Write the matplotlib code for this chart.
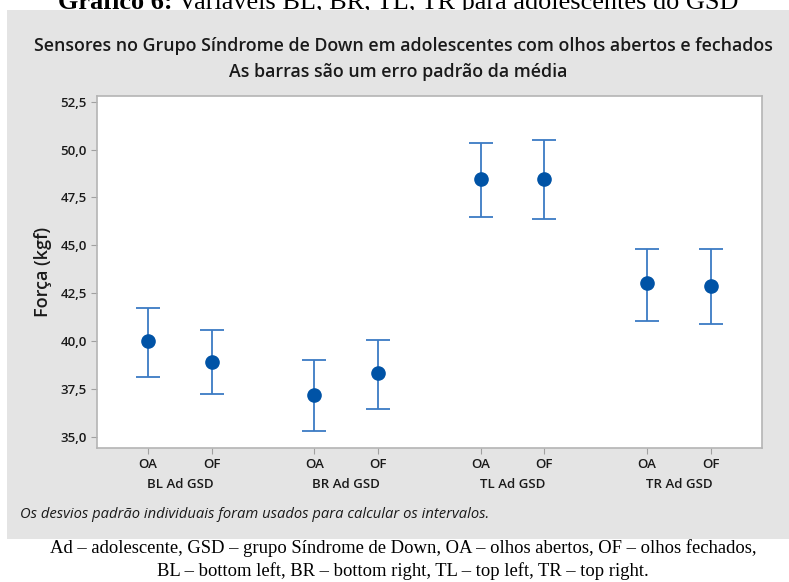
import matplotlib
matplotlib.use("Agg")
import matplotlib.pyplot as plt
from matplotlib.patches import Rectangle
from matplotlib.transforms import blended_transform_factory

# data (Minitab interval plot)
groups = ["BL Ad GSD", "BR Ad GSD", "TL Ad GSD", "TR Ad GSD"]
conditions = ["OA", "OF"]
means = [40.00, 38.93, 37.19, 38.36, 48.48, 48.48, 43.02, 42.88]
upper = [41.72, 40.57, 39.00, 40.06, 50.36, 50.50, 44.83, 44.83]
lower = [38.13, 37.26, 35.31, 36.48, 46.47, 46.40, 41.07, 40.88]
yticks = [35.0, 37.5, 40.0, 42.5, 45.0, 47.5, 50.0, 52.5]

W, H = 789, 582
fig = plt.figure(figsize=(W / 100, H / 100), dpi=100)
fig.patch.set_facecolor("white")

# gray minitab panel
fig.patches.append(Rectangle((7 / W, 1 - 539 / H), (789 - 7) / W, (539 - 10) / H,
                             transform=fig.transFigure, facecolor="#e4e4e4",
                             edgecolor="none", zorder=-10))

ax = fig.add_axes([96.7 / W, 1 - 448 / H, (762 - 96.7) / W, (448 - 95.7) / H])
ax.set_zorder(1)
ax.set_facecolor("white")

step = 2.6  # distance between group starts
xpos = []
for g in range(len(groups)):
    for c in range(len(conditions)):
        xpos.append(g * step + c)

yerr = [[m - l for m, l in zip(means, lower)], [u - m for m, u in zip(means, upper)]]
ax.errorbar(xpos, means, yerr=yerr, fmt="none", ecolor="#3b7bc4", elinewidth=1.3,
            capsize=8.5, capthick=1.3, zorder=2)
ax.plot(xpos, means, "o", color="#0053a6", markersize=9.5, zorder=3)

ax.set_xlim(-0.8, 9.6)
ax.set_ylim(34.43, 52.81)
ax.set_yticks(yticks)
ax.set_yticklabels([f"{t:.1f}".replace(".", ",") for t in yticks])
ax.set_xticks(xpos)
ax.set_xticklabels(conditions * len(groups))

font = "Open Sans"
for lab in ax.get_xticklabels() + ax.get_yticklabels():
    lab.set_fontfamily(font)
    lab.set_fontweight("semibold")
    lab.set_fontsize(9.5)
    lab.set_color("#1a1a1a")

for s in ax.spines.values():
    s.set_color("#b4b4b4")
    s.set_linewidth(1.2)
ax.tick_params(axis="both", length=4, width=0.8, color="#a0a0a0", pad=3)

trans = blended_transform_factory(ax.transData, fig.transFigure)
for g, name in enumerate(groups):
    ax.text(g * step + 0.5, 1 - 484 / H, name, transform=trans, ha="center", va="center",
            fontfamily=font, fontweight="semibold", fontsize=9.5, color="#1a1a1a")

fig.text(43 / W, 1 - 272 / H, "Força (kgf)", rotation=90, ha="center", va="center",
         fontfamily=font, fontweight="semibold", fontsize=13, color="#1a1a1a")

fig.text(403 / W, 1 - 46 / H,
         "Sensores no Grupo Síndrome de Down em adolescentes com olhos abertos e fechados",
         ha="center", va="center", fontfamily=font, fontweight="semibold", fontsize=12.8,
         color="#1a1a1a")
fig.text(398 / W, 1 - 72 / H, "As barras são um erro padrão da média",
         ha="center", va="center", fontfamily=font, fontweight="semibold", fontsize=12.8,
         color="#1a1a1a")

fig.text(20 / W, 1 - 514 / H,
         "Os desvios padrão individuais foram usados para calcular os intervalos.",
         ha="left", va="center", fontfamily=font, style="italic", fontsize=10.6,
         color="#1a1a1a")

# captions around the panel (document text, Times-like)
serif = "Liberation Serif"
renderer = fig.canvas.get_renderer()
head = fig.text(58 / W, 1 - 9 / H, "Gráfico 6:", ha="left", va="baseline",
                fontfamily=serif, fontweight="bold", fontsize=18.9, color="black", zorder=-20)
bb = head.get_window_extent(renderer)
fig.text((bb.x1 + 5) / W, 1 - 9 / H, "Variáveis BL, BR, TL, TR para adolescentes do GSD",
         ha="left", va="baseline", fontfamily=serif, fontsize=18.9, color="black", zorder=-20)
fig.text(403 / W, 1 - 553 / H,
         "Ad – adolescente, GSD – grupo Síndrome de Down, OA – olhos abertos, OF – olhos fechados,",
         ha="center", va="baseline", fontfamily=serif, fontsize=13.4, color="black")
fig.text(403 / W, 1 - 576 / H,
         "BL – bottom left, BR – bottom right, TL – top left, TR – top right.",
         ha="center", va="baseline", fontfamily=serif, fontsize=13.4, color="black")

fig.savefig("out.png", dpi=100)
